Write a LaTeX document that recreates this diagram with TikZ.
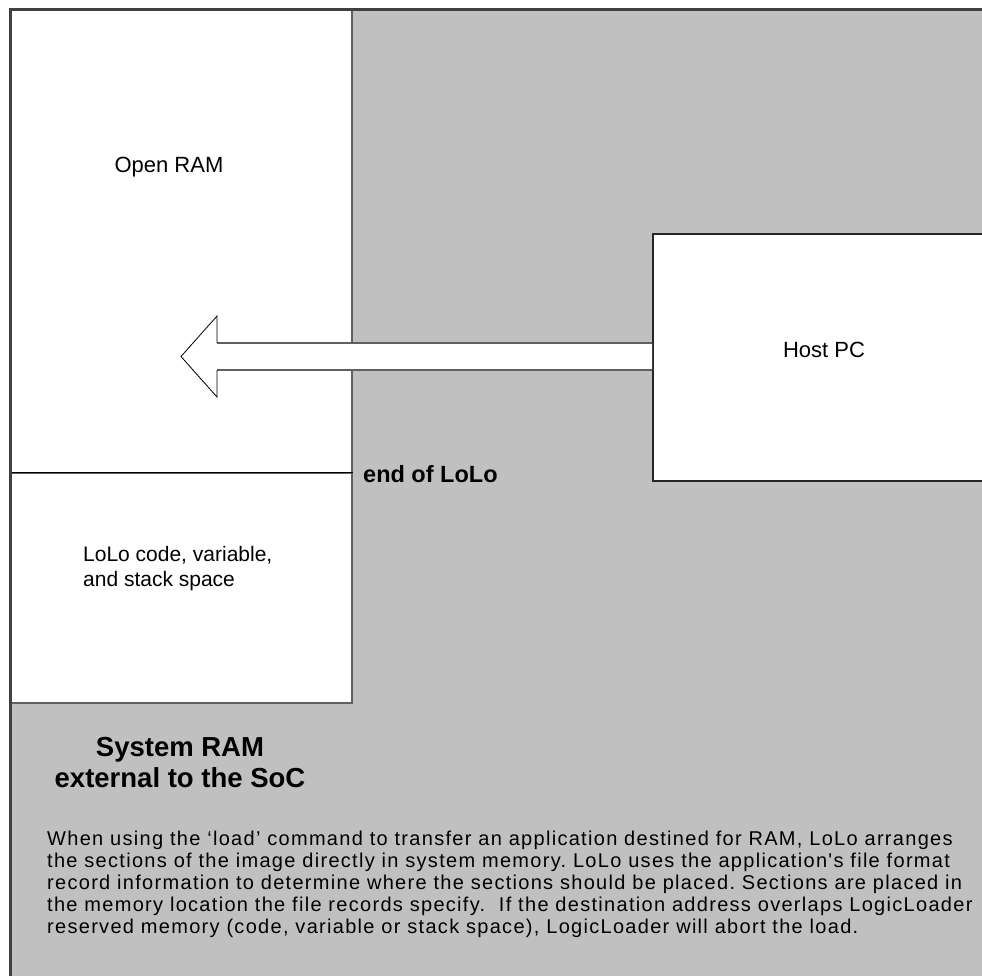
\documentclass[tikz,border=0pt]{standalone}
\usepackage{fontspec}
\setmainfont{Liberation Sans}
\newfontfamily\paraFont[LetterSpace=6.5]{Liberation Sans}
\definecolor{ramgray}{HTML}{C0C0C0}
\definecolor{outerline}{HTML}{404040}
\definecolor{boxline}{HTML}{606060}
\begin{document}
\frenchspacing
\begin{tikzpicture}[x=1pt,y=-1pt,
  region/.style={draw=boxline, fill=white, line width=1.5pt, anchor=north west, inner sep=0pt},
  lbl/.style={font=\fontsize{21}{24}\selectfont, inner sep=0pt},
  biglbl/.style={font=\fontsize{22}{25}\selectfont, inner sep=0pt},
  hdr/.style={font=\fontsize{27.5}{31}\selectfont\bfseries, inner sep=0pt, anchor=base},
  para/.style={font=\paraFont\fontsize{20}{22}\selectfont, inner sep=0pt, anchor=base west},
  outerborder/.style={draw=outerline, line width=2.5pt}
]
\useasboundingbox (0,0) rectangle (982,975);
\clip (0,0) rectangle (982,975);
% system RAM background
\node[fill=ramgray, anchor=north west, minimum width=1000pt, minimum height=1000pt, inner sep=0pt] (sys) at (10.5,9.5) {};
% memory column
\node[region, minimum width=340.5pt, minimum height=462.5pt] (open) at (10.5,9.5) {};
\node[region, minimum width=340.5pt, minimum height=230pt] (lolo) at (10.5,472) {};
\draw[black, line width=1pt] (lolo.north west) -- (lolo.north east);
% outer border (left and top)
\draw[outerborder] (sys.south west) -- (sys.north west) -- (sys.north east);
% host PC
\node[draw=black!85, fill=white, line width=1.5pt, anchor=north west, minimum width=400pt, minimum height=247pt, inner sep=0pt] (host) at (652,233) {};
% block arrow
\coordinate (a1) at (652,343);
\coordinate (a2) at (217,343);
\coordinate (a3) at (217,316);
\coordinate (tip) at (181,356.5);
\coordinate (a5) at (217,397);
\coordinate (a6) at (217,370);
\coordinate (a7) at (652,370);
\fill[white] (a1) -- (a2) -- (a3) -- (tip) -- (a5) -- (a6) -- (a7) -- cycle;
\draw[boxline, line width=1.5pt] (a1) -- (a2);
\draw[boxline, line width=1.5pt] (a7) -- (a6);
\draw[black, line width=0.8pt, line join=miter] (a2) -- (a3) -- (tip) -- (a5) -- (a6);
% labels
\node[biglbl] (openlbl) at (169,167) {Open RAM};
\node[biglbl] (hostlbl) at (824,350) {Host PC};
\node[lbl, anchor=base west] (lolo1) at (83,561.5) {LoLo code, variable,};
\node[lbl, anchor=base west] (lolo2) at (83,586.5) {and stack space};
\node[font=\fontsize{23.5}{27}\selectfont\bfseries, inner sep=0pt, anchor=base west] (eol) at (363,482) {end of LoLo};
\node[hdr] (h1) at (180,756) {System RAM};
\node[hdr] (h2) at (180,787) {external to the SoC};
\node[para] (p1) at (47,845) {When using the ‘load’ command to transfer an application destined for RAM, LoLo arranges};
\node[para] (p2) at (47,867) {the sections of the image directly in system memory. LoLo uses the application's file format};
\node[para] (p3) at (47,889) {record information to determine where the sections should be placed. Sections are placed in};
\node[para] (p4) at (47,911) {the memory location the file records specify.\ \ If the destination address overlaps LogicLoader};
\node[para] (p5) at (47,933) {reserved memory (code, variable or stack space), LogicLoader will abort the load.};
\end{tikzpicture}
\end{document}
